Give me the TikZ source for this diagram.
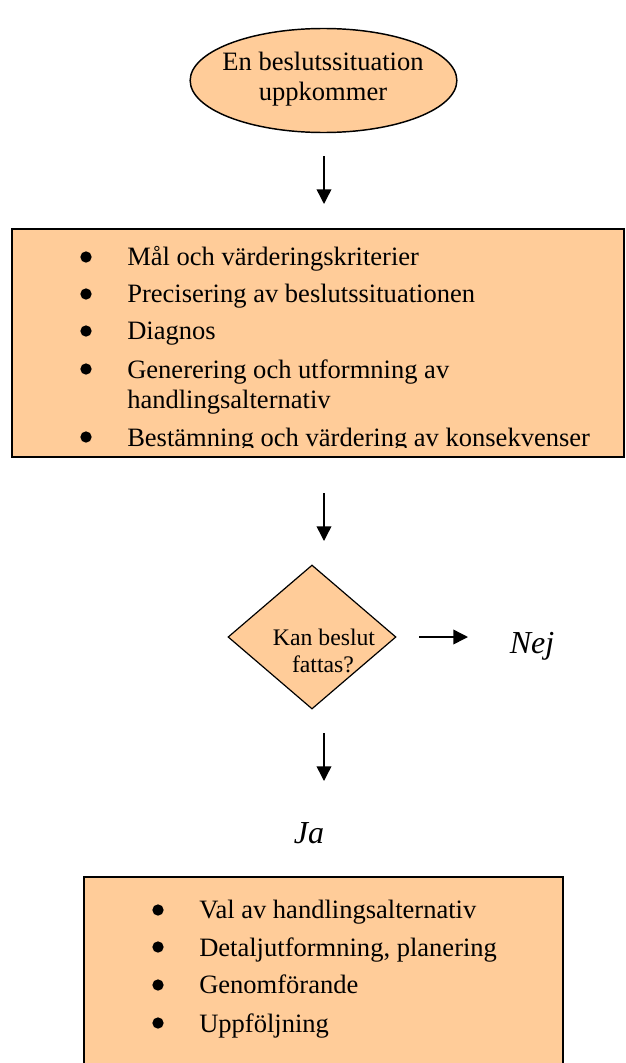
\documentclass[tikz,border=0pt]{standalone}
\usepackage{fontspec}
\setmainfont{Liberation Serif}
\usetikzlibrary{shapes.geometric,arrows.meta}
\definecolor{peach}{HTML}{FFCC99}
\begin{document}
\begin{tikzpicture}[x=0.75pt,y=-0.75pt,
  shapefill/.style={draw=black,fill=peach,line width=1.1pt,inner sep=0pt},
  flowarrow/.style={line width=1.1pt,-{Triangle[width=11pt,length=11pt]}},
  bodytext/.style={font=\fontsize{19.9}{22.5}\selectfont,inner sep=0pt,anchor=base west},
  centertext/.style={font=\fontsize{19.9}{22.5}\selectfont,inner sep=0pt,anchor=base},
  smalltext/.style={font=\fontsize{17.8}{20}\selectfont,inner sep=0pt,anchor=base},
  dot/.style={circle,fill=black,inner sep=0pt,minimum size=8.5pt},
  answer/.style={font=\fontsize{24}{28}\selectfont\itshape,inner sep=0pt,anchor=base}]
\clip (0,0) rectangle (625,1063);

% start ellipse
\node[shapefill,ellipse,minimum width=200pt,minimum height=78pt] (start) at (323.5,80.5) {};
\node[centertext] (s1) at (323,70) {En beslutssituation};
\node[centertext] (s2) at (323,100) {uppkommer};

\coordinate (a1s) at (324,156);
\coordinate (a1e) at (324,204);
\draw[flowarrow] (a1s) -- (a1e);

% analysis box
\node[shapefill,rectangle,line width=1.4pt,minimum width=459pt,minimum height=171pt] (analysis) at (318,343) {};
\node[dot] (b1) at (86,257) {};
\node[dot] (b2) at (86,294) {};
\node[dot] (b3) at (86,331) {};
\node[dot] (b4) at (86,369) {};
\node[dot] (b5) at (86,437) {};
\node[bodytext] (t1) at (127,265) {Mål och värderingskriterier};
\node[bodytext] (t2) at (127,302) {Precisering av beslutssituationen};
\node[bodytext] (t3) at (127,339) {Diagnos};
\node[bodytext] (t4) at (127,378) {Generering och utformning av};
\node[bodytext] (t4b) at (127,408) {handlingsalternativ};
\begin{scope}
  \clip (0,0) rectangle (625,447);
  \node[bodytext] (t5) at (127,446) {Bestämning och värdering av konsekvenser};
\end{scope}

\coordinate (a2s) at (324,493);
\coordinate (a2e) at (324,541);
\draw[flowarrow] (a2s) -- (a2e);

% decision
\node[shapefill,diamond,minimum width=126pt,minimum height=108pt,line width=0.9pt] (decide) at (312,637) {};
\node[smalltext] (q1) at (324,645) {Kan beslut};
\node[smalltext] (q2) at (323,672) {fattas?};

\coordinate (a3s) at (419,637);
\coordinate (a3e) at (468,637);
\draw[flowarrow] (a3s) -- (a3e);
\node[answer] (nej) at (532,653) {Nej};

\coordinate (a4s) at (324,733);
\coordinate (a4e) at (324,781);
\draw[flowarrow] (a4s) -- (a4e);
\node[answer] (ja) at (309,843) {Ja};

% action box
\node[shapefill,rectangle,line width=1.4pt,minimum width=359.25pt,minimum height=152.25pt] (action) at (323.5,978.5) {};
\node[dot] (c1) at (158,910) {};
\node[dot] (c2) at (158,947) {};
\node[dot] (c3) at (158,985) {};
\node[dot] (c4) at (158,1023) {};
\node[bodytext] (u1) at (199,918) {Val av handlingsalternativ};
\node[bodytext] (u2) at (199,956) {Detaljutformning, planering};
\node[bodytext] (u3) at (199,993) {Genomförande};
\node[bodytext] (u4) at (199,1032) {Uppföljning};
\end{tikzpicture}
\end{document}
